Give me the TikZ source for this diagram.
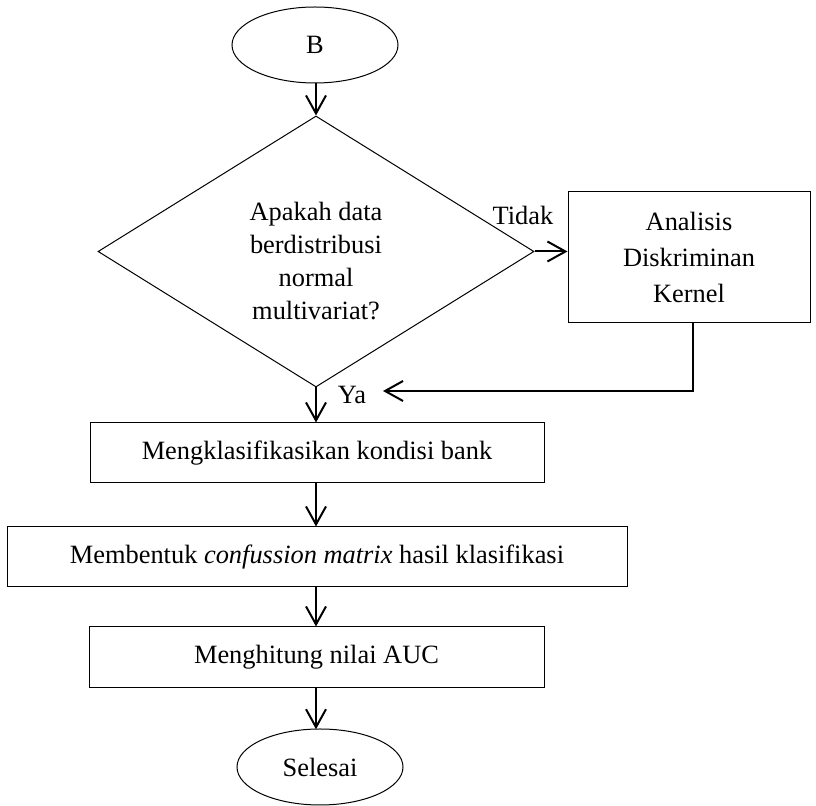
\documentclass[tikz,border=0pt]{standalone}
\usepackage{fontspec}
\setmainfont{Liberation Serif}
\usetikzlibrary{shapes.geometric,arrows.meta}
\begin{document}
\begin{tikzpicture}[x=0.5pt,y=-0.5pt,
  every node/.style={font=\fontsize{13.2}{16.5}\selectfont},
  thinbox/.style={draw,line width=0.5pt,inner sep=0pt,align=center},
  term/.style={thinbox,ellipse,minimum width=83pt,minimum height=38pt},
  procbox/.style={thinbox,rectangle,minimum height=30pt},
  decide/.style={draw,line width=0.5pt,diamond,aspect=1.6,inner sep=0pt,minimum width=218pt,minimum height=135.5pt},
  flow/.style={line width=1pt,-{Straight Barb[length=9pt,width=10pt,line width=1pt]}}
]
\useasboundingbox (0,0) rectangle (816,806);
\node[term] (b) at (315,45) {B};
\node[decide] (d) at (316,251.5) {};
\node[align=center,inner sep=0pt] (dtext) at (316,261) {Apakah data\\berdistribusi\\normal\\multivariat?};
\node[thinbox,minimum width=121pt,minimum height=65.5pt,font=\fontsize{13.2}{18}\selectfont] (k) at (689,257.5) {Analisis\\Diskriminan\\Kernel};
\node[procbox,minimum width=227pt] (p1) at (317,453) {Mengklasifikasikan kondisi bank};
\node[procbox,minimum width=310pt] (p2) at (317,557) {Membentuk \textit{confussion matrix} hasil klasifikasi};
\node[procbox,minimum width=227.5pt,minimum height=30.5pt] (p3) at (316.5,657.5) {Menghitung nilai AUC};
\node[term] (s) at (320,767) {Selesai};
\node[inner sep=0pt] (tidak) at (523,215) {Tidak};
\node[inner sep=0pt] (ya) at (352,395) {Ya};
\coordinate (kb) at (693,323);
\coordinate (kc) at (693,391);
\coordinate (ke) at (383,391);
\draw[flow] (316,83) -- (d.north);
\draw[flow] (d.east) -- (k.west |- d.east);
\draw[flow] (d.south) -- (d.south |- p1.north);
\draw[flow] (kb) -- (kc) -- (ke);
\draw[flow] (p1.south -| d.south) -- (p2.north -| d.south);
\draw[flow] (p2.south -| d.south) -- (p3.north -| d.south);
\draw[flow] (p3.south -| d.south) -- (316,729.3);
\end{tikzpicture}
\end{document}
